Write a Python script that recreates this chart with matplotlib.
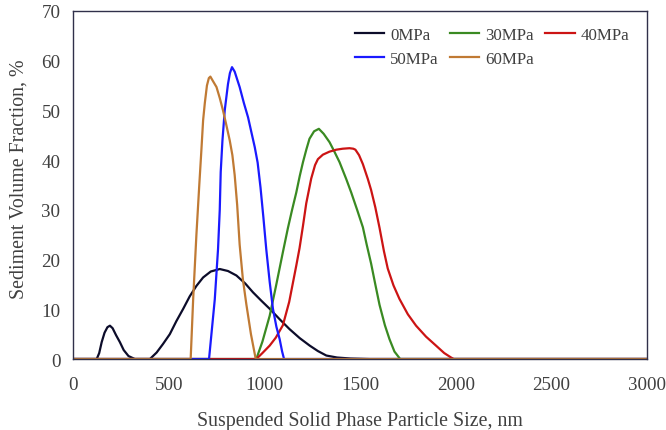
import matplotlib
matplotlib.use("Agg")
import matplotlib.pyplot as plt

plt.rcParams['font.family'] = ['Liberation Serif', 'DejaVu Serif']

x_0 = [0, 124, 137, 150, 165, 180, 193, 207, 225, 245, 265, 290, 323, 402, 437, 470, 506, 540, 576,
       610, 645, 680, 720, 767, 810, 854, 900, 941, 985, 1028, 1080, 1132, 1185, 1237, 1280, 1324,
       1380, 1450, 1550, 3000]
y_0 = [0, 0, 1.2, 3.4, 5.3, 6.4, 6.7, 6.2, 4.8, 3.4, 1.8, 0.6, 0, 0, 1.3, 3.0, 5.0, 7.6, 10.1,
       12.6, 14.7, 16.4, 17.6, 18.1, 17.7, 16.8, 15.2, 13.4, 11.7, 10.1, 8.0, 6.0, 4.2, 2.7, 1.6, 0.7,
       0.3, 0.1, 0, 0]

x_30 = [0, 958, 990, 1028, 1060, 1097, 1123, 1145, 1167, 1185, 1202, 1220, 1236, 1260, 1285, 1310,
        1341, 1365, 1393, 1428, 1454, 1485, 1515, 1535, 1558, 1580, 1602, 1630, 1654, 1680, 1710, 3000]
y_30 = [0, 0, 3.5, 8.7, 14.5, 21.5, 26.3, 30, 33.5, 36.8, 39.6, 42.2, 44.3, 45.8, 46.3, 45.3,
        43.6, 41.8, 39.6, 36.2, 33.5, 30, 26.5, 23, 19.2, 15, 10.9, 6.8, 4, 1.5, 0, 0]

x_40 = [0, 958, 990, 1028, 1060, 1097, 1130, 1167, 1184, 1202, 1219, 1245, 1265, 1280, 1306, 1340,
        1376, 1410, 1445, 1465, 1476, 1495, 1515, 1541, 1558, 1580, 1602, 1625, 1645, 1675, 1706,
        1750, 1793, 1845, 1897, 1940, 1976, 1990, 3000]
y_40 = [0, 0, 1.2, 2.7, 4.3, 6.8, 11.5, 18.8, 22.3, 26.8, 31.3, 36.3, 39.0, 40.2, 41.1, 41.7,
        42.1, 42.3, 42.4, 42.3, 42.1, 41, 39.2, 36.2, 34.0, 30.5, 26.4, 21.7, 18.2, 14.8, 12.1,
        9, 6.7, 4.5, 2.7, 1.2, 0.3, 0, 0]

x_50 = [0, 711, 741, 758, 767, 772, 781, 793, 810, 820, 831, 845, 871, 893, 915, 933, 950, 965,
        980, 995, 1010, 1028, 1045, 1063, 1080, 1093, 1103, 3000]
y_50 = [0, 0, 12, 22.1, 30, 37.6, 43.9, 50, 55.3, 57.5, 58.7, 57.8, 54.7, 51.5, 48.6, 45.5, 42.6, 39.5,
        34.5, 28.5, 22.1, 15.5, 10.1, 6.5, 4, 1.5, 0, 0]

x_60 = [0, 615, 628, 645, 660, 671, 680, 689, 700, 710, 718, 730, 750, 767, 784, 800, 819, 833,
        845, 858, 871, 888, 906, 930, 955, 3000]
y_60 = [0, 0, 12, 25, 35, 42, 48, 51.5, 55, 56.5, 56.8, 56, 54.7, 52.5, 50, 47.3, 44, 41,
        37, 31, 23, 16, 11, 5, 0, 0]

labels = ['0MPa', '30MPa', '40MPa', '50MPa', '60MPa']
colors = ['#0c0c2a', '#3a8a22', '#cc1414', '#1a1aff', '#c07a34']

fig = plt.figure(figsize=(6.66, 4.31), dpi=100)
ax = fig.add_axes([0.1096, 0.1647, 0.8619, 0.8075])

series = [(x_0, y_0), (x_30, y_30), (x_40, y_40), (x_50, y_50), (x_60, y_60)]
for (xs, ys), lab, c in zip(series, labels, colors):
    ax.plot(xs, ys, color=c, lw=1.6, label=lab, solid_joinstyle='round')

ax.set_xlim(0, 3000)
ax.set_ylim(0, 70)
ax.set_xticks(range(0, 3001, 500))
ax.set_yticks(range(0, 71, 10))
ax.tick_params(length=0, labelsize=13.7, colors='#404040')
ax.tick_params(axis='x', pad=12)
ax.tick_params(axis='y', pad=9)
for s in ax.spines.values():
    s.set_color('#30304a')
    s.set_linewidth(1.0)

ax.set_xlabel('Suspended Solid Phase Particle Size, nm', fontsize=14.3, color='#404040')
ax.set_ylabel('Sediment Volume Fraction, %', fontsize=14.3, color='#404040')
ax.xaxis.set_label_coords(0.5, -0.148)
ax.yaxis.set_label_coords(-0.078, 0.52)

handles, labs = ax.get_legend_handles_labels()
order = [0, 3, 1, 4, 2]
leg = ax.legend([handles[i] for i in order], [labs[i] for i in order], ncol=3, frameon=False,
                loc='upper right', bbox_to_anchor=(0.996, 0.998), fontsize=12.2,
                handlelength=1.75, handletextpad=0.35, columnspacing=0.65, labelspacing=0.5)
for t in leg.get_texts():
    t.set_color('#404040')

fig.savefig('out.png', dpi=100)
